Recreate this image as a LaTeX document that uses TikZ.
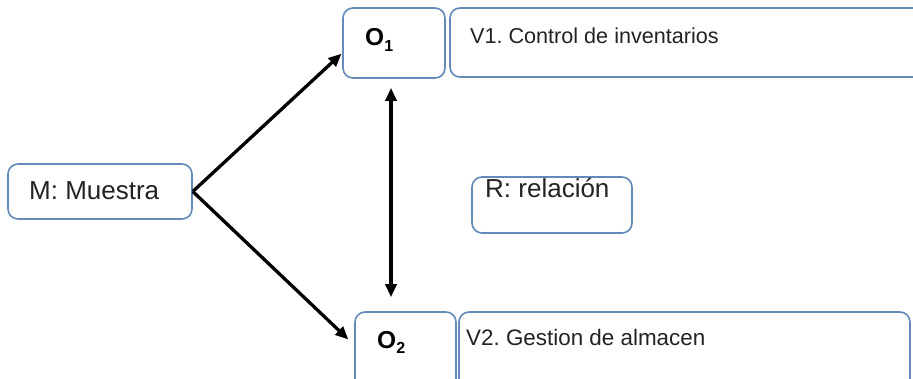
\documentclass[tikz,border=0pt]{standalone}
\usepackage{fontspec}
\setmainfont{Liberation Sans}
\usetikzlibrary{arrows.meta}
\definecolor{boxblue}{RGB}{100,138,184}
\definecolor{txt}{RGB}{35,35,35}
\frenchspacing
\begin{document}
\begin{tikzpicture}[x=1pt,y=-1pt,
  box/.style={draw=boxblue,line width=1.6pt,rounded corners=10pt,fill=white,inner sep=0pt,minimum width=#1},
  lbl/.style={inner sep=0pt,anchor=base west,text=txt},
  arr/.style={line width=3.3pt,-{Triangle[length=13pt,width=11pt]}},
  darr/.style={line width=3.3pt,{Triangle[length=13pt,width=11pt]}-{Triangle[length=13pt,width=11pt]}}]
\useasboundingbox (0,0) rectangle (913,378);
% boxes
\node[box=184pt,minimum height=55pt] (M) at (100,191.5) {};
\node[box=102pt,minimum height=70pt] (O1) at (394,43) {};
\node[box=475pt,minimum height=69pt] (V1) at (687.5,42.5) {};
\node[box=160pt,minimum height=56pt] (R) at (552,205) {};
\node[box=101pt,minimum height=80pt] (O2) at (405.5,352) {};
\node[box=451pt,minimum height=80pt] (V2) at (684.5,352) {};
% labels
\node[lbl,font=\fontsize{26}{30}\selectfont] (Mt) at (29,199) {M: Muestra};
\node[lbl,font=\fontsize{24.5}{28}\selectfont\bfseries,text=black] (O1t) at (365,45) {O\raisebox{-6pt}{\fontsize{16}{18}\selectfont 1}};
\node[lbl,font=\fontsize{24.5}{28}\selectfont\bfseries,text=black] (O2t) at (377,348) {O\raisebox{-5pt}{\fontsize{16}{18}\selectfont 2}};
\node[lbl,font=\fontsize{21.6}{26}\selectfont] (V1t) at (470,43) {V1. Control de inventarios};
\node[lbl,font=\fontsize{22.4}{26}\selectfont] (V2t) at (466,345) {V2. Gestion de almacen};
\node[lbl,font=\fontsize{26}{30}\selectfont] (Rt) at (485,197) {R: relación};
% connectors
\draw[arr,shorten >=1pt] (M.east) -- ([yshift=-10pt]O1.west);
\draw[arr,shorten >=8pt] (M.east) -- ([yshift=7pt]O2.west);
\draw[darr,shorten <=9pt,shorten >=14pt] ([xshift=-3pt]O1.south) -- ([xshift=-3pt]O1.south |- O2.north);
\end{tikzpicture}
\end{document}
